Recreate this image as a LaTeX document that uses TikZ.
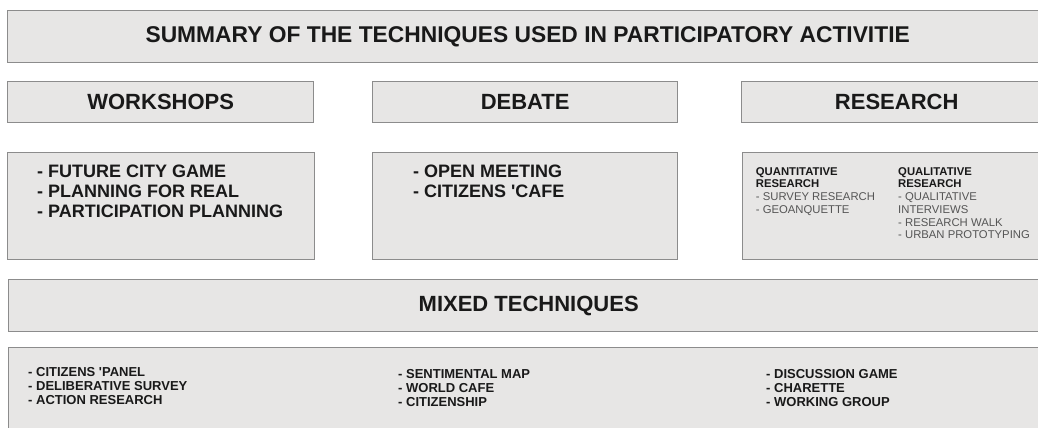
\documentclass[tikz,border=0pt]{standalone}
\usepackage{fontspec}
\newfontfamily\af{Liberation Sans}
\definecolor{boxfill}{RGB}{231,230,229}
\definecolor{boxline}{RGB}{140,140,140}
\definecolor{ink}{RGB}{25,25,25}
\definecolor{greyink}{RGB}{85,85,85}
\begin{document}
\begin{tikzpicture}[x=1pt,y=-1pt,
  box/.style={draw=boxline, fill=boxfill, line width=1.4pt, inner sep=0pt, anchor=north west, text=ink},
  head/.style={box, font=\af\bfseries\fontsize{22}{24}\selectfont},
  item/.style={anchor=base west, inner sep=0pt, text=ink},
  big/.style={item, font=\af\bfseries\fontsize{18}{19}\selectfont},
  rsb/.style={item, font=\af\bfseries\fontsize{11.3}{12}\selectfont},
  rsr/.style={item, font=\af\fontsize{11.3}{12}\selectfont, text=greyink},
  sml/.style={item, font=\af\bfseries\fontsize{13}{13}\selectfont}]
\useasboundingbox (0,0) rectangle (1038,428);
\fill[white] (0,0) rectangle (1038,428);
% boxes
\node[head, minimum width=1040, minimum height=52, font=\af\bfseries\fontsize{22.8}{24}\selectfont] (title) at (7,10) {SUMMARY OF THE TECHNIQUES USED IN PARTICIPATORY ACTIVITIE};
\node[head, minimum width=306, minimum height=41] (hw) at (7,81) {WORKSHOPS};
\node[head, minimum width=305, minimum height=41] (hd) at (372,81) {DEBATE};
\node[head, minimum width=310, minimum height=41] (hr) at (741,81) {RESEARCH};
\node[box, minimum width=307, minimum height=107] (cw) at (7,152) {};
\node[box, minimum width=305, minimum height=107] (cd) at (372,152) {};
\node[box, minimum width=310, minimum height=107] (cr) at (742,152) {};
\node[head, minimum width=1040, minimum height=52] (mix) at (8,279) {MIXED TECHNIQUES};
\node[box, minimum width=1040, minimum height=100] (bot) at (8,347) {};
% workshops
\node[big] (w1) at (37,177.8) {- FUTURE CITY GAME};
\node[big] (w2) at (37,197.5) {- PLANNING FOR REAL};
\node[big] (w3) at (37,217.2) {- PARTICIPATION PLANNING};
% debate
\node[big] (d1) at (413,177.8) {- OPEN MEETING};
\node[big] (d2) at (413,197.5) {- CITIZENS 'CAFE};
% research
\node[rsb] (q1) at (755.7,175.2) {QUANTITATIVE};
\node[rsb] (q2) at (755.7,187.9) {RESEARCH};
\node[rsr] (q3) at (755.7,200.6) {- SURVEY RESEARCH};
\node[rsr] (q4) at (755.7,213.3) {- GEOANQUETTE};
\node[rsb] (l1) at (898,175.2) {QUALITATIVE};
\node[rsb] (l2) at (898,187.9) {RESEARCH};
\node[rsr] (l3) at (898,200.6) {- QUALITATIVE};
\node[rsr] (l4) at (898,213.3) {INTERVIEWS};
\node[rsr] (l5) at (898,226) {- RESEARCH WALK};
\node[rsr] (l6) at (898,238.7) {- URBAN PROTOTYPING};
% mixed
\node[sml] (a1) at (28,376.4) {- CITIZENS 'PANEL};
\node[sml] (a2) at (28,390.4) {- DELIBERATIVE SURVEY};
\node[sml] (a3) at (28,404.4) {- ACTION RESEARCH};
\node[sml] (b1) at (398,378.4) {- SENTIMENTAL MAP};
\node[sml] (b2) at (398,392.4) {- WORLD CAFE};
\node[sml] (b3) at (398,406.4) {- CITIZENSHIP};
\node[sml] (c1) at (766,378.4) {- DISCUSSION GAME};
\node[sml] (c2) at (766,392.4) {- CHARETTE};
\node[sml] (c3) at (766,406.4) {- WORKING GROUP};
\end{tikzpicture}
\end{document}
